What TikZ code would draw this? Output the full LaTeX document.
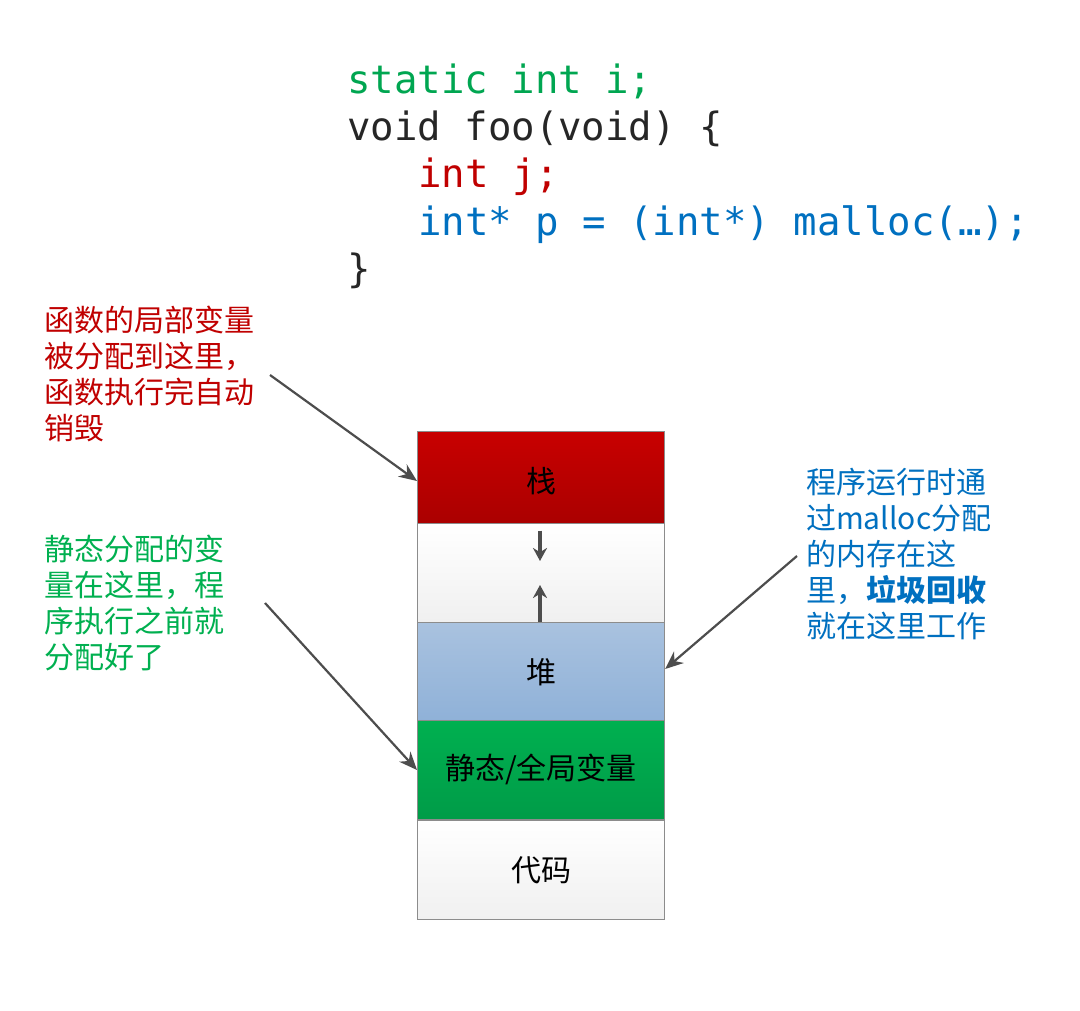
\documentclass[tikz,border=0pt]{standalone}
\usepackage{fontspec}
\setmainfont{Noto Sans CJK SC}
\newfontfamily\cjk{Noto Sans CJK SC}
\newfontfamily\codefont{DejaVu Sans Mono}
\definecolor{cgreen}{HTML}{00A651}
\definecolor{cred}{HTML}{C00000}
\definecolor{cblue}{HTML}{0070C0}
\definecolor{ctext}{HTML}{262626}
\definecolor{tgreen}{HTML}{00B050}
\definecolor{boxline}{HTML}{8C8C8C}
\definecolor{arrowc}{HTML}{4D4D4D}
\definecolor{stacktop}{HTML}{C80000}
\definecolor{stackbot}{HTML}{A80000}
\definecolor{heaptop}{HTML}{A9C2DF}
\definecolor{heapbot}{HTML}{8FB1D8}
\definecolor{stattop}{HTML}{00B050}
\definecolor{statbot}{HTML}{009C48}
\definecolor{whitebot}{HTML}{F0F0F0}
\usetikzlibrary{arrows.meta}
\tikzset{
  codeline/.style={anchor=base west, inner sep=0pt, font=\codefont\fontsize{39}{46}\selectfont},
  note/.style={anchor=north west, inner sep=0pt, align=left, font=\cjk\fontsize{30}{36}\selectfont},
  membox/.style={draw=boxline, line width=1.2pt, minimum width=247pt, minimum height=98.5pt, inner sep=0pt, anchor=north west, font=\cjk\fontsize{30}{36}\selectfont, text=black},
  pointer/.style={draw=arrowc, line width=2.2pt, -{Stealth[length=18pt,width=15pt]}},
  growth/.style={draw=arrowc, line width=3.2pt, -{Stealth[length=13pt,width=14pt]}}
}
\begin{document}
\begin{tikzpicture}[x=1pt,y=-1pt]
\useasboundingbox[fill=white] (0,0) rectangle (1080,1011);
% code
\node[codeline, text=cgreen] (c1) at (347,94) {static int i;};
\node[codeline, text=ctext] (c2) at (347,141) {void foo(void) \{};
\node[codeline, text=cred] (c3) at (418,188) {int j;};
\node[codeline, text=cblue] (c4) at (418,236) {int* p = (int*) malloc(…);};
\node[codeline, text=ctext] (c5) at (347,283) {\}};
% memory boxes
\node[membox, top color=stacktop, bottom color=stackbot] (stack) at (417,431) {栈};
\node[membox, top color=white, bottom color=whitebot] (free) at (417,523) {};
\node[membox, top color=heaptop, bottom color=heapbot] (heap) at (417,622) {堆};
\node[membox, top color=stattop, bottom color=statbot] (static) at (417,720) {静态/全局变量};
\node[membox, top color=white, bottom color=whitebot] (code) at (417,820) {代码};
% growth arrows
\coordinate (downend) at (540,561);
\coordinate (upend) at (540,585);
\draw[growth] (stack.south -| downend) -- (downend);
\draw[growth] (heap.north -| upend) -- (upend);
% notes
\node[note, text=cred] (n1) at (44,306) {函数的局部变量\\被分配到这里，\\函数执行完自动\\销毁};
\node[note, text=tgreen] (n2) at (44,535) {静态分配的变\\量在这里，程\\序执行之前就\\分配好了};
\node[note, text=cblue] (n3) at (806,468) {程序运行时通\\过malloc分配\\的内存在这\\里，{\bfseries 垃圾回收}\\就在这里工作};
% pointers
\coordinate (p1) at (270,375);
\coordinate (p2) at (265,603);
\coordinate (p3) at (797,556);
\draw[pointer] (p1) -- (stack.west |- 0,481);
\draw[pointer] (p2) -- (static.west |- 0,770);
\draw[pointer] (p3) -- (heap.east |- 0,669);
\end{tikzpicture}
\end{document}
